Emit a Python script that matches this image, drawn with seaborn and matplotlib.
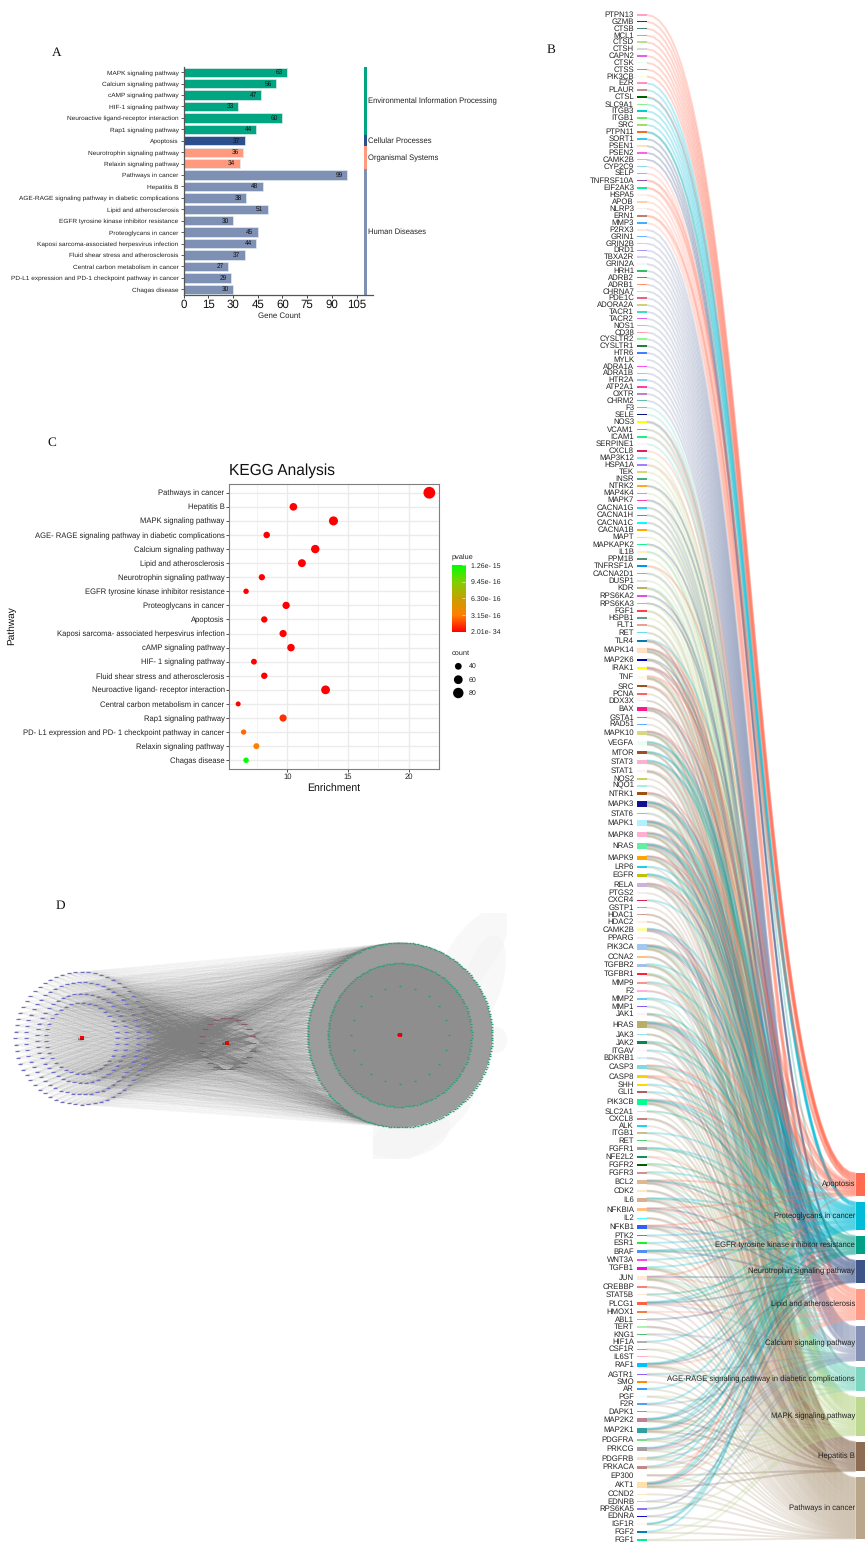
import numpy as np
import pandas as pd
import seaborn as sns
import matplotlib
matplotlib.use("Agg")
import matplotlib.pyplot as plt
from matplotlib.collections import LineCollection
from matplotlib.colors import LinearSegmentedColormap, to_rgba
from matplotlib.patches import Circle, Ellipse, Rectangle

# ---------- panel A data ----------
a_pathways = ["MAPK signaling pathway", "Calcium signaling pathway", "cAMP signaling pathway",
              "HIF-1 signaling pathway", "Neuroactive ligand-receptor interaction", "Rap1 signaling pathway",
              "Apoptosis", "Neurotrophin signaling pathway", "Relaxin signaling pathway", "Pathways in cancer",
              "Hepatitis B", "AGE-RAGE signaling pathway in diabetic complications", "Lipid and atherosclerosis",
              "EGFR tyrosine kinase inhibitor resistance", "Proteoglycans in cancer",
              "Kaposi sarcoma-associated herpesvirus infection", "Fluid shear stress and atherosclerosis",
              "Central carbon metabolism in cancer", "PD-L1 expression and PD-1 checkpoint pathway in cancer",
              "Chagas disease"]
a_counts = [63, 56, 47, 33, 60, 44, 37, 36, 34, 99, 48, 38, 51, 30, 45, 44, 37, 27, 29, 30]
a_groups = ["Environmental Information Processing"] * 6 + ["Cellular Processes"] + \
           ["Organismal Systems"] * 2 + ["Human Diseases"] * 11
group_colors = {"Environmental Information Processing": "#00A582", "Cellular Processes": "#2A4F8C",
                "Organismal Systems": "#FF9A7E", "Human Diseases": "#7F90B5"}

# ---------- panel C data ----------
c_pathways = ["Pathways in cancer", "Hepatitis B", "MAPK signaling pathway",
              "AGE- RAGE signaling pathway in diabetic complications", "Calcium signaling pathway",
              "Lipid and atherosclerosis", "Neurotrophin signaling pathway",
              "EGFR tyrosine kinase inhibitor resistance", "Proteoglycans in cancer", "Apoptosis",
              "Kaposi sarcoma- associated herpesvirus infection", "cAMP signaling pathway",
              "HIF- 1 signaling pathway", "Fluid shear stress and atherosclerosis",
              "Neuroactive ligand- receptor interaction", "Central carbon metabolism in cancer",
              "Rap1 signaling pathway", "PD- L1 expression and PD- 1 checkpoint pathway in cancer",
              "Relaxin signaling pathway", "Chagas disease"]
c_enrichment = [21.7, 10.5, 13.8, 8.3, 12.3, 11.2, 7.9, 6.6, 9.9, 8.1, 9.65, 10.3, 7.25, 8.1, 13.15,
                5.95, 9.65, 6.4, 7.45, 6.6]
c_count = [99, 48, 63, 38, 56, 51, 36, 30, 45, 37, 44, 47, 33, 37, 60, 27, 44, 29, 34, 30]
c_pvalue = [2e-34, 1e-24, 1e-28, 1e-22, 1e-26, 1e-25, 1e-20, 1e-19, 1e-22, 1e-20, 1e-20, 1e-21, 1e-19,
            1e-20, 1e-24, 1e-18, 1.2e-16, 2.6e-16, 3.3e-16, 1.26e-15]
c_legend_pvalue = ["1.26e- 15", "9.45e- 16", "6.30e- 16", "3.15e- 16", "2.01e- 34"]
c_legend_counts = [40, 60, 80]

# ---------- panel B data ----------
sankey_pathways = ["Apoptosis", "Proteoglycans in cancer", "EGFR tyrosine kinase inhibitor resistance",
                   "Neurotrophin signaling pathway", "Lipid and atherosclerosis", "Calcium signaling pathway",
                   "AGE-RAGE signaling pathway in diabetic complications", "MAPK signaling pathway",
                   "Hepatitis B", "Pathways in cancer"]
sankey_codes = "APENLCGMHK"
sankey_counts = [37, 45, 30, 36, 51, 56, 38, 63, 48, 99]
sankey_colors = ["#FF6A50", "#00BCD8", "#00A087", "#3C5488", "#FF9A85", "#8491B4", "#7BD5C0", "#BDD88F",
                 "#8C6D54", "#B8A58A"]
gene_names = [
    "PTPN13", "GZMB", "CTSB", "MCL1", "CTSD", "CTSH", "CAPN2", "CTSK", "CTSS", "PIK3CB",
    "EZR", "PLAUR", "CTSL", "SLC9A1", "ITGB3", "ITGB1", "SRC", "PTPN11", "SORT1", "PSEN1",
    "PSEN2", "CAMK2B", "CYP2C9", "SELP", "TNFRSF10A", "EIF2AK3", "HSPA5", "APOB", "NLRP3", "ERN1",
    "MMP3", "P2RX3", "GRIN1", "GRIN2B", "DRD1", "TBXA2R", "GRIN2A", "HRH1", "ADRB2", "ADRB1",
    "CHRNA7", "PDE1C", "ADORA2A", "TACR1", "TACR2", "NOS1", "CD38", "CYSLTR2", "CYSLTR1", "HTR6",
    "MYLK", "ADRA1A", "ADRA1B", "HTR2A", "ATP2A1", "OXTR", "CHRM2", "F3", "SELE", "NOS3",
    "VCAM1", "ICAM1", "SERPINE1", "CXCL8", "MAP3K12", "HSPA1A", "TEK", "INSR", "NTRK2", "MAP4K4",
    "MAPK7", "CACNA1G", "CACNA1H", "CACNA1C", "CACNA1B", "MAPT", "MAPKAPK2", "IL1B", "PPM1B", "TNFRSF1A",
    "CACNA2D1", "DUSP1", "KDR", "RPS6KA2", "RPS6KA3", "FGF1", "HSPB1", "FLT1", "RET", "TLR4",
    "MAPK14", "MAP2K6", "IRAK1", "TNF", "SRC", "PCNA", "DDX3X", "BAX", "GSTA1", "RAD51",
    "MAPK10", "VEGFA", "MTOR", "STAT3", "STAT1", "NOS2", "NQO1", "NTRK1", "MAPK3", "STAT6",
    "MAPK1", "MAPK8", "NRAS", "MAPK9", "LRP6", "EGFR", "RELA", "PTGS2", "CXCR4", "GSTP1",
    "HDAC1", "HDAC2", "CAMK2B", "PPARG", "PIK3CA", "CCNA2", "TGFBR2", "TGFBR1", "MMP9", "F2",
    "MMP2", "MMP1", "JAK1", "HRAS", "JAK3", "JAK2", "ITGAV", "BDKRB1", "CASP3", "CASP8",
    "SHH", "GLI1", "PIK3CB", "SLC2A1", "CXCL8", "ALK", "ITGB1", "RET", "FGFR1", "NFE2L2",
    "FGFR2", "FGFR3", "BCL2", "CDK2", "IL6", "NFKBIA", "IL2", "NFKB1", "PTK2", "ESR1",
    "BRAF", "WNT3A", "TGFB1", "JUN", "CREBBP", "STAT5B", "PLCG1", "HMOX1", "ABL1", "TERT",
    "KNG1", "HIF1A", "CSF1R", "IL6ST", "RAF1", "AGTR1", "SMO", "AR", "PGF", "F2R",
    "DAPK1", "MAP2K2", "MAP2K1", "PDGFRA", "PRKCG", "PDGFRB", "PRKACA", "EP300", "AKT1", "CCND2",
    "EDNRB", "RPS6KA5", "EDNRA", "IGF1R", "FGF2", "FGF1"]
gene_colors = [
    "#FFA0C8", "#2A2AA0", "#4A8070", "#8ED040", "#B8E090", "#D8D8D8", "#E060F0", "#E8FFF0", "#F060E0", "#FFFFE0",
    "#FF90C0", "#C09090", "#006000", "#90EE90", "#00D0D0", "#60EE60", "#A0E060", "#F07020", "#30D0E0", "#FFE0C0",
    "#FF60F0", "#D8B0E0", "#90D8F0", "#FFA060", "#9050B0", "#00F0A0", "#FFF0F0", "#FFD0A0", "#F0F0F0", "#C08070",
    "#40B0FF", "#FFE8D8", "#70B0FF", "#90FFA0", "#B090F0", "#D0D0E8", "#F0F8F8", "#30C060", "#7070F0", "#FF9070",
    "#F0F020", "#F06080", "#D0D080", "#40D8C8", "#E060F0", "#D0D040", "#FFA0A0", "#80FF90", "#208040", "#4080FF",
    "#FFF8F0", "#FF50F0", "#30FFFF", "#80D0F0", "#FF40A0", "#C080D0", "#60C0B0", "#40F070", "#101080", "#FFFF00",
    "#FF8020", "#20F080", "#F8F8F8", "#E02060", "#80E0FF", "#A080FF", "#D8D870", "#40B080", "#FFA820", "#20F0D0",
    "#FF40B0", "#20D0FF", "#20B0A0", "#00FFFF", "#FFA800", "#FFC8E0", "#20F090", "#FFF0C0", "#509080", "#0090FF",
    "#E080FF", "#E0E0E0", "#C0B060", "#E050E0", "#90C0F0", "#FF4050", "#60A090", "#E8A090", "#60E0F0", "#0080B0",
    "#FFE0C0", "#0000C0", "#FFFF00", "#FFF8E8", "#A05020", "#FF6060", "#F0F0F0", "#FF1493", "#9080FF", "#60B0FF",
    "#D8D880", "#E8FFF0", "#A05020", "#FFB0D0", "#FFF0F5", "#D0D050", "#A0F0E8", "#A05010", "#101090", "#D0A0E0",
    "#B0F0FF", "#FFB0D0", "#60F0A0", "#FFA500", "#20D0E0", "#C0C000", "#D0B0E0", "#F0F0F0", "#E02050", "#D0A090",
    "#D0A090", "#FFF0E0", "#FFFFA0", "#FFE8E0", "#A0C8F0", "#FFC080", "#A0C0E8", "#FF2030", "#FF9090", "#FFB0E0",
    "#60D0F0", "#8060F0", "#FFF0F5", "#B8B060", "#90E0E8", "#008B50", "#FFF0F5", "#D0F0FF", "#80D8E0", "#FFD000",
    "#FFD800", "#B06060", "#00FF90", "#C0E8F8", "#C08080", "#20D0FF", "#C8C080", "#50D070", "#A0A0A0", "#109060",
    "#006000", "#D09090", "#E0B890", "#FFE8C0", "#D8B090", "#FFC080", "#40FFFF", "#3060F0", "#A060D0", "#20F020",
    "#5090F0", "#F050E0", "#FF00F0", "#FFE8D8", "#FF8070", "#FFE8D0", "#FF6040", "#F08040", "#FFA030", "#B0F0B0",
    "#50C070", "#B0B0B0", "#20E0D0", "#FFB0C0", "#00C0FF", "#9060F0", "#FF8C00", "#30A0F0", "#E8FFFF", "#50A0F0",
    "#60A8E0", "#C08090", "#30A0A0", "#70E080", "#A0A0A0", "#FFE0B0", "#C08888", "#F0FFFF", "#FFE0A8", "#FFE8C0",
    "#FFD000", "#9070F0", "#1010C0", "#FFF5E8", "#0080C0", "#00F090"]
gene_links = [
    "A", "A", "A", "A", "A", "A", "A", "A", "A", "A",
    "P", "P", "AP", "P", "P", "P", "P", "PE", "N", "N",
    "N", "N", "L", "L", "AL", "AL", "L", "L", "L", "AL",
    "L", "C", "C", "C", "C", "C", "C", "C", "C", "C",
    "C", "C", "C", "C", "C", "C", "C", "C", "C", "C",
    "C", "C", "C", "C", "C", "C", "C", "G", "G", "CGL",
    "GL", "GL", "G", "L", "M", "LM", "M", "M", "NM", "M",
    "NM", "CM", "CM", "CM", "CM", "M", "NM", "GM", "M", "AM",
    "CM", "M", "GMK", "NM", "NM", "MK", "M", "MK", "MK", "PLHK",
    "ANLGMHK", "NMH", "ANLH", "ALGMHK", "LHK", "K", "H", "ANLGHK", "K", "K",
    "ANLGMHK", "PELGHK", "PEHK", "PELGHK", "LGHK", "K", "K", "ANMK", "APENLGMHK", "GK",
    "APENLGMHK", "APNLGMHK", "APENLCGMHK", "ANLGMHK", "PK", "PEMCK", "ANLGHK", "K", "PK", "K",
    "HK", "H", "PNLCH", "K", "APENLGMHK", "HK", "PGMHK", "GMHK", "PLGK", "LC",
    "PGK", "GK", "EHK", "APENLCGMHK", "HK", "EGHK", "PK", "CK", "APLGMHK", "ALHK",
    "PK", "PK", "APENLGMHK", "EK", "HK", "K", "PK", "MK", "PEMK", "LK",
    "EMK", "PMK", "AENLGHK", "HK", "PELGHK", "ANLGHK", "HK", "ANLGHK", "PK", "PK",
    "PENMK", "PK", "PGMHK", "ANLGMHK", "HK", "EK", "PENLCK", "LK", "NK", "HK",
    "CK", "PK", "MK", "K", "PENLMHK", "CGK", "K", "PK", "MK", "PCK",
    "K", "PENMHK", "PENLMHK", "CEMK", "PNLCMK", "CEMK", "PLCM", "HK", "APENLGMHK", "K",
    "CK", "NM", "CK", "PEK", "PMK", "MK"]

# ---------- panel D ring sizes ----------
left_ring_radii = [66.3, 56.2, 44.7, 35.5]
left_ring_sizes = [64, 58, 47, 37]
mid_ring_radius = 26.0
mid_ring_size = 22
right_ring_radii = [92.4, 71.7, 48.7]
right_ring_sizes = [215, 165, 20]

W, H = 865, 1544
sns.set_theme(style="white")
plt.rcParams["font.family"] = ["Liberation Sans", "DejaVu Sans"]
plt.rcParams["axes.unicode_minus"] = False
plt.rcParams["text.hinting"] = "none"
fig = plt.figure(figsize=(W / 100, H / 100), dpi=100, facecolor="white")


def px_axes(l, t, r, b, **kw):
    return fig.add_axes([l / W, 1 - b / H, (r - l) / W, (b - t) / H], **kw)


ov = px_axes(0, 0, W, H, zorder=0)
ov.set_xlim(0, W)
ov.set_ylim(H, 0)
ov.axis("off")

# panel letters
for letter, lx, ly in [("A", 57, 52.7), ("B", 551, 50), ("C", 52, 443), ("D", 60, 905.7)]:
    ov.text(lx, ly, letter, family="Liberation Serif", fontsize=9.5, ha="center", va="center", color="#111111")

# ---------- Panel A ----------
axA = px_axes(183.5, 66.5, 373, 295, zorder=2)
axA.patch.set_alpha(0)
dfA = pd.DataFrame({"pathway": a_pathways, "count": a_counts, "group": a_groups})
sns.barplot(data=dfA, y="pathway", x="count", hue="group", palette=group_colors, dodge=False, saturation=1,
            width=0.82, edgecolor="#E2ECEF", linewidth=0.5, legend=False, ax=axA)
for cont in axA.containers:
    axA.bar_label(cont, padding=-8.2, fontsize=4.7, color="#111111")
axA.set_xlim(0, 114.9)
axA.set_ylim(19.5, -0.5)
axA.set_xticks(range(0, 106, 15))
axA.tick_params(axis="x", labelsize=8.3, length=2, width=0.7, pad=1, color="#444444", labelcolor="#111111", bottom=True)
axA.tick_params(axis="y", labelsize=4.65, length=2, width=0.6, pad=1.5, color="#444444", labelcolor="#222222", left=True)
axA.set_xlabel("Gene Count", fontsize=5.7, labelpad=1.5, color="#222222", x=0.504)
axA.set_ylabel("")
sns.despine(ax=axA)
for s in ("left", "bottom"):
    axA.spines[s].set_color("#555555")
    axA.spines[s].set_linewidth(0.9)
idx = 0
for g in dict.fromkeys(a_groups):
    n = a_groups.count(g)
    axA.barh(idx - 0.5 + n / 2, 1.95, height=n, left=109.2, color=group_colors[g], linewidth=0)
    axA.text(111.8, idx - 0.5 + n / 2, g, fontsize=5.5, va="center", ha="left", color="#222222", clip_on=False)
    idx += n

# ---------- Panel C ----------
axC = px_axes(228.7, 484.3, 438.7, 768.7, zorder=2)
cmap = LinearSegmentedColormap.from_list("rg", [(0, "#FF0000"), (0.25, "#FF7F00"), (0.5, "#C8A000"),
                                                (0.75, "#80D000"), (1, "#00FF00")])
dfC = pd.DataFrame({"pathway": c_pathways, "enrichment": c_enrichment, "count": c_count, "pvalue": c_pvalue})
axC.set_axisbelow(True)
sns.scatterplot(data=dfC, x="enrichment", y="pathway", size="count", sizes=(13, 72), size_norm=(27, 99),
                hue="pvalue", palette=cmap, hue_norm=(2.01e-34, 1.26e-15), linewidth=0, legend=False, ax=axC)
axC.set_xlim(5.17, 22.47)
axC.set_ylim(19.6, -0.6)
axC.set_xticks([10, 15, 20])
axC.set_xticks([7.5, 12.5, 17.5], minor=True)
axC.grid(True, which="major", color="#EBEBEB", linewidth=1.0)
axC.grid(True, which="minor", axis="x", color="#F0F0F0", linewidth=0.6)
axC.tick_params(axis="both", which="major", labelsize=5.5, length=2, width=0.6, pad=1, color="#333333",
                labelcolor="#222222", bottom=True, left=True)
axC.tick_params(axis="x", which="minor", length=0)
for s in axC.spines.values():
    s.set_color("#7F7F7F")
    s.set_linewidth(0.8)
axC.set_xlabel("Enrichment", fontsize=7.6, labelpad=2.5, color="#111111")
ov.text(12, 626, "Pathway", rotation=90, fontsize=7.3, ha="center", va="center", color="#111111")
ov.text(228.7, 471, "KEGG Analysis", fontsize=11.2, ha="left", va="center", color="#111111")
axC.set_ylabel("")

cax = px_axes(452, 565, 465, 631.7, zorder=2)
cax.imshow(np.linspace(1, 0, 256)[:, None], cmap=cmap, aspect="auto", extent=[0, 1, 0, 1])
cax.set_xticks([])
cax.yaxis.tick_right()
cax.set_yticks(np.linspace(1, 0, len(c_legend_pvalue)), c_legend_pvalue)
cax.tick_params(axis="y", labelsize=5, length=2, width=0.4, direction="in", color="white", pad=4, labelcolor="#222222",
                right=True)
for s in cax.spines.values():
    s.set_visible(False)
ov.text(452, 557, "pvalue", fontsize=5.3, va="center", color="#222222")
ov.text(452, 652.7, "count", fontsize=5.3, va="center", color="#222222")
sns.scatterplot(x=[458.3] * 3, y=[666.3, 679.7, 693], size=c_legend_counts, sizes=(13, 72), size_norm=(27, 99),
                color="black", linewidth=0, legend=False, ax=ov)
for lab, ly in zip(c_legend_counts, [666.3, 679.7, 693]):
    ov.text(469, ly, str(lab), fontsize=5, va="center", color="#222222")
ov.set_xlim(0, W)
ov.set_ylim(H, 0)

# ---------- Panel B (sankey) ----------
unit = 0.62
x0, x1, xm = 646.7, 855.7, (646.7 + 855.7) / 2
t = np.linspace(0, 1, 48)
bx = (1 - t) ** 3 * x0 + 3 * (1 - t) ** 2 * t * xm + 3 * (1 - t) * t ** 2 * xm + t ** 3 * x1
b0 = (1 - t) ** 3 + 3 * (1 - t) ** 2 * t
b1 = 3 * (1 - t) * t ** 2 + t ** 3

bar_tops, y_cur = [], 1173.0
for c in sankey_counts:
    bar_tops.append(y_cur)
    y_cur += c * unit + 6.0
n_links = [sum(code in s for s in gene_links) for code in sankey_codes]
target_w = [c * unit / max(n, 1) for c, n in zip(sankey_counts, n_links)]
target_used = [0] * len(sankey_codes)

gene_h = [len(s) * unit for s in gene_links]
gene_gap = (1540.6 - 14.6 - sum(gene_h)) / (len(gene_names) - 1)
segs, seg_colors, seg_w = [], [], []
y_cur = 14.6
gene_centres = []
for name, col, links, h in zip(gene_names, gene_colors, gene_links, gene_h):
    gene_centres.append(y_cur + h / 2)
    ordered = sorted(links, key=sankey_codes.index)
    for k, code in enumerate(ordered):
        p = sankey_codes.index(code)
        ys = y_cur + (k + 0.5) * unit
        ye = bar_tops[p] + (target_used[p] + 0.5) * target_w[p]
        target_used[p] += 1
        segs.append(np.column_stack([bx, ys * b0 + ye * b1]))
        seg_colors.append(to_rgba(sankey_colors[p], 0.28))
        seg_w.append(1.9 * 0.72)
    y_cur += h + gene_gap
ov.add_collection(LineCollection(segs, colors=seg_colors, linewidths=seg_w, capstyle="butt", zorder=3))
ov.barh(gene_centres, [10] * len(gene_h), height=[max(h, 1.5) for h in gene_h], left=636.7,
        color=gene_colors, linewidth=0, zorder=4)
for name, yc in zip(gene_names, gene_centres):
    ov.text(634, yc, name, fontsize=5.55, ha="right", va="center", color="#222222", zorder=5)
ov.barh([tp + c * unit / 2 for tp, c in zip(bar_tops, sankey_counts)], [10] * len(bar_tops),
        height=[c * unit for c in sankey_counts], left=855.7, color=sankey_colors, linewidth=0, zorder=4)
for lab, tp, c in zip(sankey_pathways, bar_tops, sankey_counts):
    ov.text(855, tp + c * unit / 2, lab, fontsize=5.5, ha="right", va="center", color="#222222", zorder=6)

# ---------- Panel D (network) ----------
clip = Rectangle((373, 912.7), 134, 246.3, transform=ov.transData)
for (ex, ey, ew, eh, ea) in [(473, 953, 105, 45, -55), (484, 980, 92, 38, -75), (496, 1040, 22, 26, 0),
                             (417, 1128, 135, 45, -35), (405, 1132, 90, 52, -10)]:
    e = Ellipse((ex, ey), ew, eh, angle=ea, facecolor="#F3F3F3", edgecolor="none", alpha=0.55, zorder=0.5)
    ov.add_patch(e)
    e.set_clip_path(clip)


def ring(cx, cy, rad, n):
    a = 2 * np.pi * np.arange(n) / n
    return np.column_stack([cx + rad * np.cos(a), cy + rad * np.sin(a)])


Lc, Mc, Rc = (81.7, 1038.3), (226.7, 1043.3), (400.0, 1035.0)
left_rings = [ring(*Lc, r, n) for r, n in zip(left_ring_radii, left_ring_sizes)]
left_nodes = np.vstack(left_rings)
mid_nodes = ring(*Mc, mid_ring_radius, mid_ring_size)
right_rings = [ring(*Rc, r, n) for r, n in zip(right_ring_radii, right_ring_sizes)]
right_nodes = np.vstack(right_rings[:2])

ov.add_patch(Circle(Rc, right_ring_radii[0], facecolor="#9C9C9C", edgecolor="none", zorder=1))
ov.add_patch(Circle(Rc, right_ring_radii[1], facecolor="#8E8E8E", edgecolor="none", zorder=1.1))

edges = []
for p in left_nodes:
    for q in mid_nodes[::3]:
        edges.append([p, q])
    edges.append([p, Lc])
for p in right_nodes[::2]:
    for q in mid_nodes[1::4]:
        edges.append([p, q])
ov.add_collection(LineCollection(edges, colors=[to_rgba("#808080", 0.012)], linewidths=0.3, zorder=0.8))
direct, crossed = [], []
rout = right_rings[0]
for rg in left_rings:
    for i, p in enumerate(rg):
        base = int(i * len(rout) / len(rg))
        for off in range(-66, 67, 6):
            direct.append([p, rout[(base + off) % len(rout)]])
        for off in range(-40, 41, 5):
            crossed.append([p, rout[(len(rout) - base + off) % len(rout)]])
ov.add_collection(LineCollection(direct, colors=[to_rgba("#808080", 0.018)], linewidths=0.25, zorder=0.9))
ov.add_collection(LineCollection(crossed, colors=[to_rgba("#808080", 0.022)], linewidths=0.25, zorder=0.9))

ov.scatter(left_nodes[:, 0], left_nodes[:, 1], marker="_", s=7, color="#6F6FC4", linewidths=0.9, zorder=2)
ov.scatter(mid_nodes[:, 0], mid_nodes[:, 1], marker="_", s=14, color="#8A5A70", linewidths=0.8, zorder=2)
rn = np.vstack(right_rings)
ov.scatter(rn[:, 0], rn[:, 1], marker="_", s=3, color="#2E9C7A", linewidths=1.0, zorder=2)
for (cx, cy), lab in zip([Lc, Mc, Rc], ["Target", "Pathway", "ZHMP"]):
    ov.scatter([cx], [cy], s=5, marker="s", color="#FF0000", linewidths=0, zorder=3)
    ov.text(cx, cy, lab, fontsize=1.8, ha="center", va="center", color="#333333", zorder=3.2)

fig.savefig("out.png", dpi=100)
